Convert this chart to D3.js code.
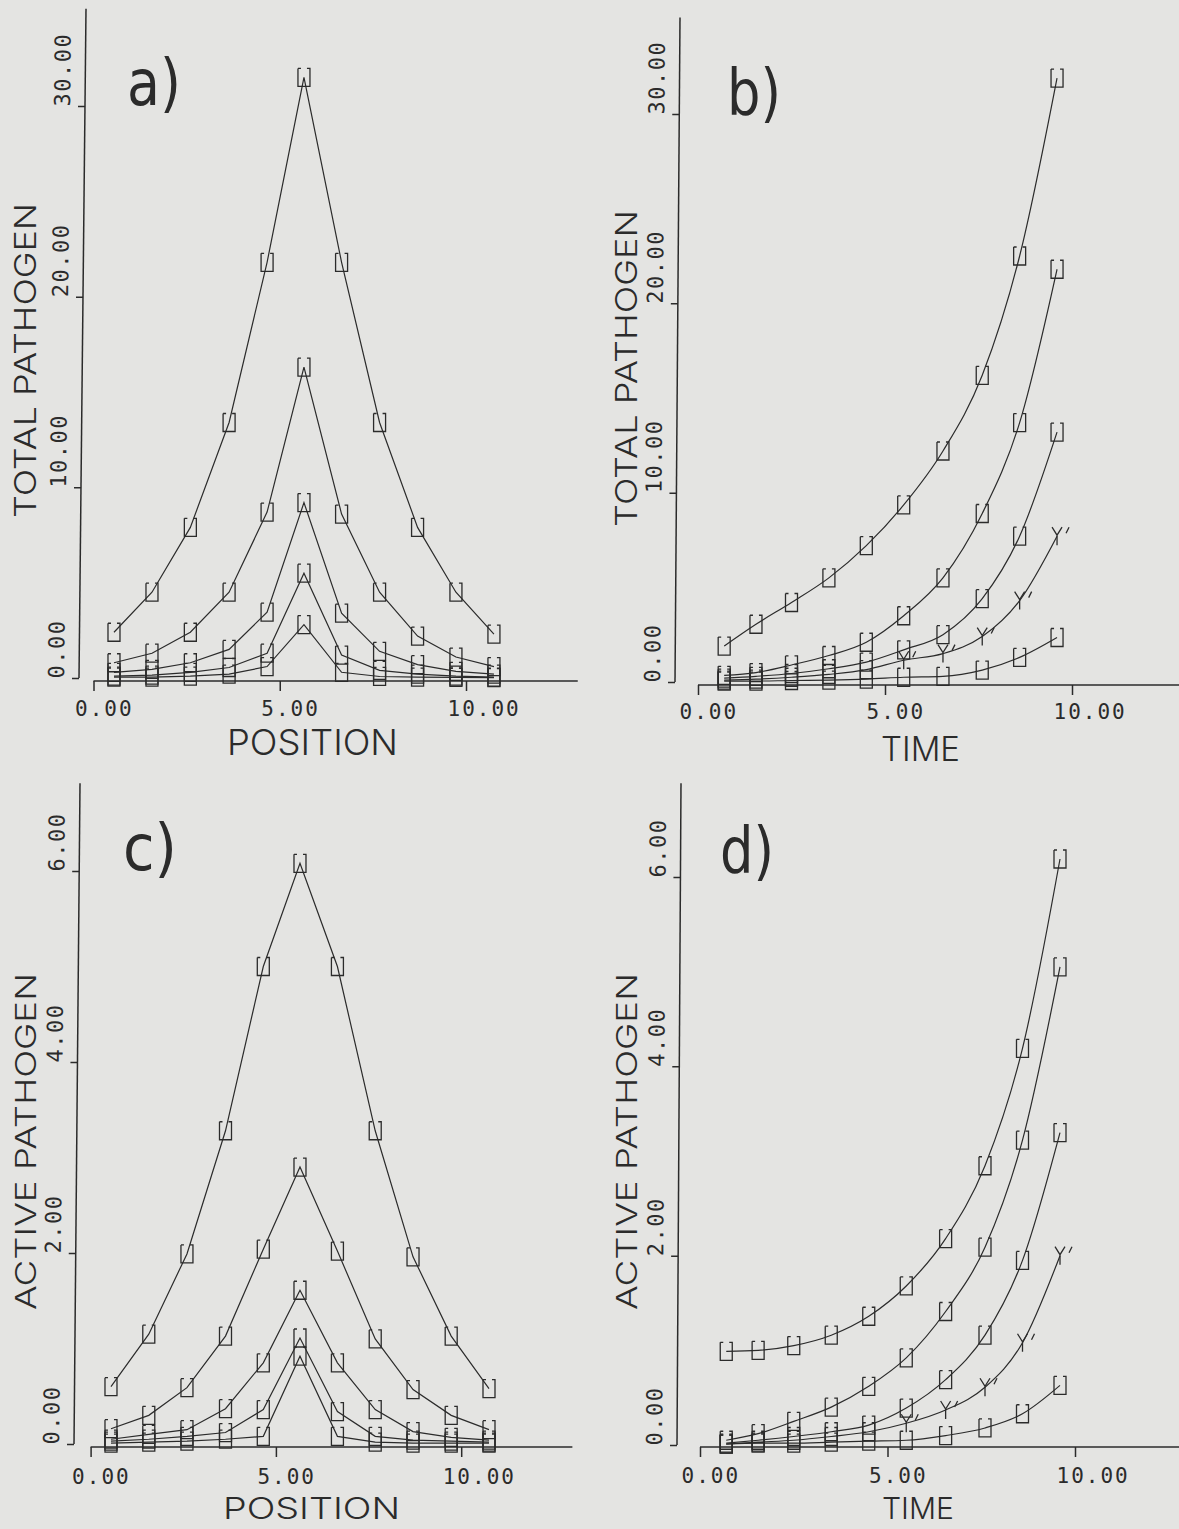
<!DOCTYPE html>
<html>
<head>
<meta charset="utf-8">
<script src="https://cdn.jsdelivr.net/npm/d3@7"></script>
<style>
  html, body { margin: 0; padding: 0; background: #e4e4e2; }
  svg { display: block; }
</style>
</head>
<body>
<div id="chart"></div>
<script>
// x positions of the plotted points
const posX = [0.55, 1.57, 2.6, 3.64, 4.66, 5.65, 6.66, 7.68, 8.7, 9.73, 10.75];
const timeX = [0.7, 1.55, 2.5, 3.5, 4.5, 5.5, 6.55, 7.6, 8.6, 9.6];

// a) total pathogen vs position (one row per curve)
const totalPos = [
  [2.4, 4.5, 7.9, 13.4, 21.8, 31.5, 21.8, 13.4, 7.9, 4.5, 2.3],
  [0.8, 1.3, 2.4, 4.5, 8.7, 16.3, 8.6, 4.5, 2.2, 1.1, 0.6],
  [0.3, 0.45, 0.8, 1.5, 3.45, 9.2, 3.4, 1.4, 0.7, 0.35, 0.2],
  [0.1, 0.15, 0.3, 0.55, 1.3, 5.5, 1.2, 0.4, 0.2, 0.1, 0.05],
  [0.05, 0.05, 0.1, 0.2, 0.6, 2.8, 0.3, 0.08, 0.05, 0.03, 0.02]
];
// b) total pathogen vs time
const totalTime = [
  [1.9, 3.05, 4.2, 5.5, 7.2, 9.35, 12.2, 16.2, 22.5, 31.9],
  [0.35, 0.5, 0.9, 1.4, 2.1, 3.5, 5.5, 8.9, 13.7, 21.8],
  [0.2, 0.3, 0.45, 0.7, 1.05, 1.7, 2.5, 4.4, 7.7, 13.2],
  [0.1, 0.15, 0.25, 0.4, 0.65, 1.15, 1.5, 2.4, 4.3, 7.7],
  [0.05, 0.05, 0.08, 0.1, 0.15, 0.25, 0.3, 0.63, 1.3, 2.35]
];
// c) active pathogen vs position
const activePos = [
  [0.6, 1.15, 1.99, 3.28, 5.0, 6.08, 5.0, 3.28, 1.96, 1.13, 0.58],
  [0.16, 0.3, 0.59, 1.13, 2.04, 2.9, 2.02, 1.1, 0.57, 0.3, 0.15],
  [0.05, 0.1, 0.15, 0.37, 0.85, 1.61, 0.85, 0.36, 0.13, 0.07, 0.04],
  [0.03, 0.05, 0.08, 0.12, 0.36, 1.11, 0.34, 0.08, 0.04, 0.03, 0.02],
  [0.01, 0.02, 0.03, 0.05, 0.08, 0.92, 0.08, 0.02, 0.01, 0.01, 0.01]
];
// d) active pathogen vs time
const activeTime = [
  [0.99, 1.0, 1.05, 1.16, 1.36, 1.68, 2.18, 2.95, 4.19, 6.19],
  [0.05, 0.12, 0.25, 0.4, 0.62, 0.92, 1.41, 2.09, 3.22, 5.05],
  [0.02, 0.05, 0.09, 0.14, 0.21, 0.39, 0.69, 1.16, 1.95, 3.3],
  [0.01, 0.03, 0.05, 0.09, 0.14, 0.23, 0.37, 0.61, 1.08, 2.0],
  [0.01, 0.02, 0.02, 0.03, 0.04, 0.05, 0.1, 0.18, 0.33, 0.63]
];

// tick values
const xTicks = [0, 5, 10];
const totalTicks = [0, 10, 20, 30];
const activeTicks = [0, 2, 4, 6];

// marker used by each curve (sq = open box, yp = Y' from point ypStart on)
const posMarkers = ["sq", "sq", "sq", "sq", "sq"];
const timeMarkers = ["sq", "sq", "sq", "yp", "sq"];
const ypStart = 5;

const W = 1179, H = 1529;
const ink = "#2b2b2b";
const numFont = "'DejaVu Sans Mono', 'Liberation Mono', monospace";
const titleFont = "Inter, 'Noto Sans', 'DejaVu Sans', sans-serif";

const markerPath = {
  sq: "M-6,-9h3M-6,-9V9H6V-9h-3",
  yp: "M-5,-9L0,-1L5,-9M0,-1V9M9,-3L12,-9"
};

const svg = d3.select("#chart").append("svg")
  .attr("width", W)
  .attr("height", H);

svg.append("rect").attr("width", W).attr("height", H).attr("fill", "#e4e4e2");

// layout of the four panels (pixel placement only)
const panels = [
  { label: "a)", lx: 127, ly: 105, xs: posX, series: totalPos, kinds: posMarkers, curve: d3.curveLinear,
    xr: [93.5, 466], xAxisY: 681, xLabY: 716, yr: [678, 106], yMax: 30, yTicks: totalTicks, yTop: 35.1,
    axisX: [86, 79], yTitle: "TOTAL PATHOGEN", ytX: 36, ytY: 518, ytLen: 315, ytSize: 30,
    xTitle: "POSITION", xtX: 227, xtY: 755, xtLen: 171, xtSize: 36 },
  { label: "b)", lx: 727, ly: 115, xs: timeX, series: totalTime, kinds: timeMarkers, curve: d3.curveMonotoneX,
    xr: [698, 1072], xAxisY: 685, xLabY: 719, yr: [682, 114], yMax: 30, yTicks: totalTicks, yTop: 35.1,
    axisX: [680, 675], yTitle: "TOTAL PATHOGEN", ytX: 637, ytY: 527, ytLen: 317, ytSize: 30,
    xTitle: "TIME", xtX: 881, xtY: 761, xtLen: 79, xtSize: 34 },
  { label: "c)", lx: 123, ly: 870, xs: posX, series: activePos, kinds: posMarkers, curve: d3.curveLinear,
    xr: [90.6, 461.2], xAxisY: 1447, xLabY: 1484, yr: [1444, 871], yMax: 6, yTicks: activeTicks, yTop: 6.92,
    axisX: [80, 74], yTitle: "ACTIVE PATHOGEN", ytX: 36, ytY: 1310, ytLen: 337, ytSize: 28,
    xTitle: "POSITION", xtX: 223, xtY: 1519, xtLen: 177, xtSize: 30 },
  { label: "d)", lx: 720, ly: 873, xs: timeX, series: activeTime, kinds: timeMarkers, curve: d3.curveMonotoneX,
    xr: [700, 1075], xAxisY: 1447, xLabY: 1483, yr: [1445, 877], yMax: 6, yTicks: activeTicks, yTop: 6.99,
    axisX: [681, 677], yTitle: "ACTIVE PATHOGEN", ytX: 637, ytY: 1310, ytLen: 337, ytSize: 28,
    xTitle: "TIME", xtX: 882, xtY: 1519, xtLen: 72, xtSize: 30 }
];

panels.forEach(p => {
  const g = svg.append("g");

  const x = d3.scaleLinear().domain([0, 10]).range(p.xr);
  const y = d3.scaleLinear().domain([0, p.yMax]).range(p.yr);

  // x axis: line runs from 0 out past the last tick
  const xAxis = d3.axisBottom(x)
    .tickValues(xTicks)
    .tickSize(10)
    .tickSizeOuter(0)
    .tickFormat(d3.format(".2f"));

  const gx = g.append("g")
    .attr("transform", `translate(0,${p.xAxisY})`)
    .call(xAxis)
    .attr("color", ink)
    .attr("font-family", numFont)
    .attr("font-size", 21);
  gx.select(".domain").remove();
  gx.append("line")
    .attr("x1", x(0)).attr("x2", x(13))
    .attr("stroke", ink).attr("stroke-width", 1.5);
  gx.selectAll(".tick line").attr("stroke-width", 1.5);
  gx.selectAll(".tick text")
    .attr("text-anchor", "start")
    .attr("letter-spacing", 2)
    .attr("x", -19)
    .attr("y", p.xLabY - p.xAxisY)
    .attr("dy", 0);

  // y axis: leans a little like the plotted original
  const yTopPx = y(p.yTop);
  const k = (p.axisX[0] - p.axisX[1]) / (p.yr[0] - yTopPx);
  const skewDeg = -Math.atan(k) * 180 / Math.PI;
  const yAxis = d3.axisLeft(y)
    .tickValues(p.yTicks)
    .tickSize(7)
    .tickSizeOuter(0)
    .tickFormat(d3.format(".2f"));

  const gy = g.append("g")
    .attr("transform", `translate(${p.axisX[1] + k * p.yr[0]},0) skewX(${skewDeg})`)
    .call(yAxis)
    .attr("color", ink)
    .attr("font-family", numFont)
    .attr("font-size", 22);
  gy.select(".domain").remove();
  gy.append("line")
    .attr("y1", y(0)).attr("y2", yTopPx)
    .attr("stroke", ink).attr("stroke-width", 1.5);
  gy.selectAll(".tick line").attr("stroke-width", 1.5);
  gy.selectAll(".tick text")
    .attr("x", 0)
    .attr("dy", 0)
    .attr("letter-spacing", 1.5)
    .attr("text-anchor", "start")
    .attr("transform", "translate(-15,0) rotate(-90)");

  // curves
  const line = d3.line()
    .x(d => x(d[0]))
    .y(d => y(d[1]))
    .curve(p.curve);

  p.series.forEach((vals, si) => {
    const pts = vals.map((v, i) => [p.xs[i], v]);
    g.append("path")
      .datum(pts)
      .attr("d", line)
      .attr("fill", "none")
      .attr("stroke", ink)
      .attr("stroke-width", 1.2);

    const kind = p.kinds[si];
    g.selectAll(null)
      .data(pts)
      .enter()
      .append("path")
      .attr("transform", d => `translate(${x(d[0])},${y(d[1])})`)
      .attr("d", (d, i) => markerPath[kind === "yp" && i < ypStart ? "sq" : kind])
      .attr("fill", "none")
      .attr("stroke", ink)
      .attr("stroke-width", 1.3);
  });

  // panel letter
  g.append("text")
    .attr("x", p.lx).attr("y", p.ly)
    .attr("font-family", "'DejaVu Sans', sans-serif")
    .attr("font-size", 64)
    .attr("fill", ink)
    .attr("textLength", 54)
    .attr("lengthAdjust", "spacingAndGlyphs")
    .text(p.label);

  // axis titles
  g.append("text")
    .attr("transform", `translate(${p.ytX},${p.ytY}) rotate(-90)`)
    .attr("font-family", titleFont)
    .attr("font-weight", 300)
    .attr("font-size", p.ytSize)
    .attr("fill", ink)
    .attr("textLength", p.ytLen)
    .attr("lengthAdjust", "spacingAndGlyphs")
    .text(p.yTitle);

  g.append("text")
    .attr("x", p.xtX).attr("y", p.xtY)
    .attr("font-family", titleFont)
    .attr("font-weight", 300)
    .attr("font-size", p.xtSize)
    .attr("fill", ink)
    .attr("textLength", p.xtLen)
    .attr("lengthAdjust", "spacingAndGlyphs")
    .text(p.xTitle);
});
</script>
</body>
</html>
